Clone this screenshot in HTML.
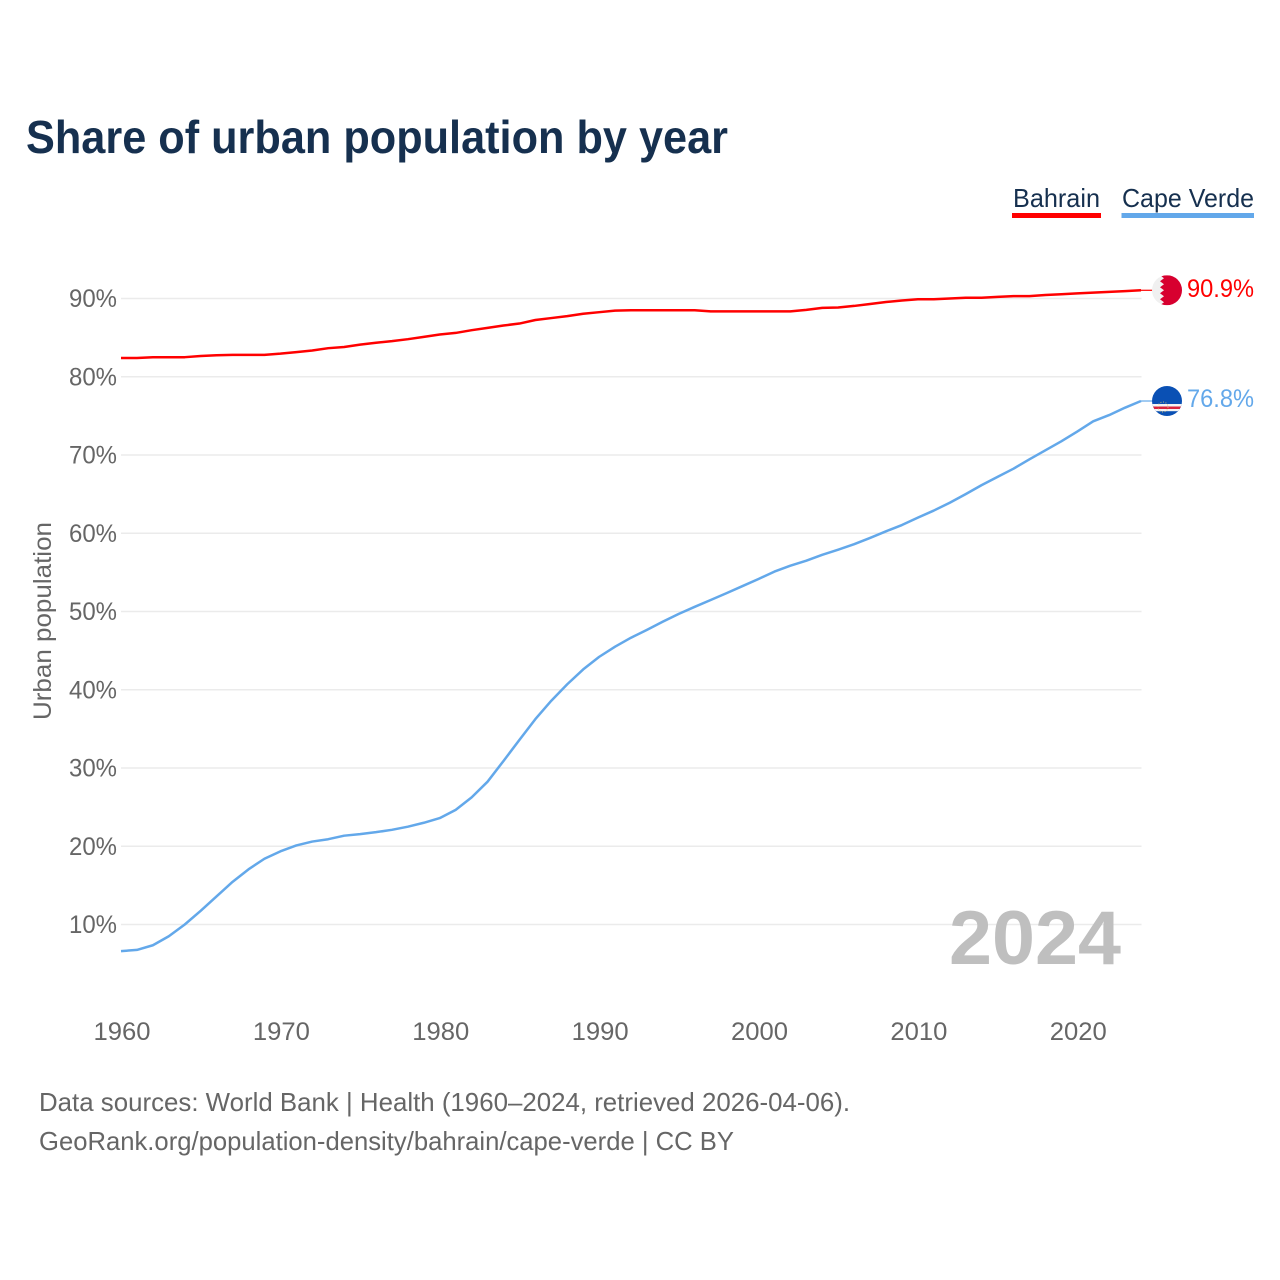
<!DOCTYPE html>
<html lang="en">
<head>
<meta charset="utf-8">
<title>Share of urban population by year</title>
<style>
html,body{margin:0;padding:0;background:#fff;}
svg{display:block;font-family:"Liberation Sans",sans-serif;}
</style>
</head>
<body>
<svg id="chart" width="1280" height="1280" viewBox="0 0 1280 1280" xmlns="http://www.w3.org/2000/svg">
<defs>
<clipPath id="flag-clip"><circle cx="0" cy="0" r="15"></circle></clipPath>
</defs>
<rect width="1280" height="1280" fill="#fff"></rect>
<text x="26" y="153" font-size="46" font-weight="700" fill="#16304f" textLength="702" lengthAdjust="spacingAndGlyphs">Share of urban population by year</text>

<g>
<g>
<text x="1013" y="207" font-size="26" fill="#16304f" textLength="87" lengthAdjust="spacingAndGlyphs">Bahrain</text>
<rect x="1012" y="213" width="89" height="5" fill="#ff0000"></rect>
</g>
<g>
<text x="1122" y="207" font-size="26" fill="#16304f" textLength="132" lengthAdjust="spacingAndGlyphs">Cape Verde</text>
<rect x="1121.5" y="213" width="132.5" height="5" fill="#63a8ea"></rect>
</g>
</g>

<g id="grid"></g>
<g id="y-ticks"></g>
<g id="x-ticks"></g>
<text transform="translate(51,621) rotate(-90)" text-anchor="middle" font-size="25" fill="#666" textLength="198" lengthAdjust="spacingAndGlyphs">Urban population</text>
<text x="949" y="964" font-size="76" font-weight="700" fill="#bfbfbf" textLength="172" lengthAdjust="spacingAndGlyphs">2024</text>
<g id="series"></g>

<g id="flag-bahrain">
<g clip-path="url(#flag-clip)">
<rect x="-15" y="-15" width="30" height="30" fill="#f0f0f0"></rect>
<polygon fill="#d7002f" points="-7,-15 -3,-12 -7,-9 -3,-6 -7,-3 -3,0 -7,3 -3,6 -7,9 -3,12 -7,15 15,15 15,-15"></polygon>
</g>
</g>
<g id="flag-cape-verde">
<g clip-path="url(#flag-clip)">
<rect x="-15" y="-15" width="30" height="30" fill="#0a50b4"></rect>
<rect x="-15" y="3" width="30" height="2.5" fill="#f4f4f4"></rect>
<rect x="-15" y="5.5" width="30" height="2.5" fill="#d8233f"></rect>
<rect x="-15" y="8" width="30" height="2.2" fill="#f4f4f4"></rect>
<circle cx="-4" cy="6" r="5" fill="none" stroke="#e8c860" stroke-width="1" stroke-dasharray="1 1.6" opacity="0.8"></circle>
</g>
</g>
<g id="end-labels"></g>

<g>
<text x="39" y="1111" font-size="26" fill="#666" textLength="811" lengthAdjust="spacingAndGlyphs">Data sources: World Bank | Health (1960–2024, retrieved 2026-04-06).</text>
<text x="39" y="1150" font-size="26" fill="#666" textLength="695" lengthAdjust="spacingAndGlyphs">GeoRank.org/population-density/bahrain/cape-verde | CC BY</text>
</g>
</svg>
<script>
const firstYear = 1960;
const bahrainValues = [82.4,82.4,82.5,82.5,82.5,82.65,82.75,82.8,82.8,82.8,82.95,83.15,83.35,83.65,83.8,84.1,84.35,84.55,84.8,85.1,85.4,85.6,85.95,86.25,86.55,86.8,87.25,87.5,87.75,88.05,88.25,88.45,88.5,88.5,88.5,88.5,88.5,88.35,88.35,88.35,88.35,88.35,88.35,88.55,88.8,88.85,89.05,89.3,89.55,89.75,89.9,89.9,90.0,90.1,90.1,90.2,90.3,90.3,90.45,90.55,90.65,90.75,90.85,90.95,91.05];
const capeVerdeValues = [6.6,6.75,7.35,8.5,10.0,11.75,13.6,15.45,17.05,18.4,19.35,20.1,20.6,20.9,21.35,21.55,21.8,22.1,22.5,23.0,23.6,24.65,26.25,28.25,30.9,33.6,36.25,38.6,40.7,42.6,44.2,45.5,46.65,47.65,48.7,49.7,50.6,51.47,52.35,53.25,54.15,55.1,55.85,56.5,57.25,57.9,58.6,59.4,60.25,61.05,62.0,62.9,63.9,65.0,66.15,67.2,68.25,69.45,70.6,71.75,73.0,74.3,75.1,76.05,76.9];
const yTickValues = [10,20,30,40,50,60,70,80,90];
const xTickValues = [1960,1970,1980,1990,2000,2010,2020];
const endLabelBahrain = "90.9%";
const endLabelCapeVerde = "76.8%";

const SVG_NS = "http://www.w3.org/2000/svg";
function xScale(year){ return 121 + (year - 1960) * (1020 / 64); }
function yScale(v){ return 1002.75 - v * 7.825; }
function make(tag, parent, attrs){
  const el = document.createElementNS(SVG_NS, tag);
  for (const k in attrs) el.setAttribute(k, attrs[k]);
  parent.appendChild(el);
  return el;
}
const gridG = document.getElementById("grid");
const yTicksG = document.getElementById("y-ticks");
const xTicksG = document.getElementById("x-ticks");
const seriesG = document.getElementById("series");
const labelsG = document.getElementById("end-labels");

yTickValues.forEach(function(v){
  const line = make("line", gridG, {x1: xScale(1960), x2: xScale(2024) + 0.5, y1: yScale(v), y2: yScale(v), stroke: "#ebebeb", "stroke-width": 1.4});
  
  
  const t = make("text", yTicksG, {x: 117, y: yScale(v) + 8.5, "text-anchor": "end", "font-size": 25, fill: "#666", textLength: 48, lengthAdjust: "spacingAndGlyphs"});
  t.textContent = v + "%";
  
  
});
xTickValues.forEach(function(y){
  const t = make("text", xTicksG, {x: xScale(y) + 1, y: 1040, "text-anchor": "middle", "font-size": 25, fill: "#666", textLength: 57, lengthAdjust: "spacingAndGlyphs"});
  t.textContent = String(y);
  
  
});
function drawSeries(values, color, name){
  const d = values.map(function(v, i){
    return (i ? "L" : "M") + xScale(firstYear + i).toFixed(2) + " " + yScale(v).toFixed(2);
  }).join(" ");
  const p = make("path", seriesG, {d: d, fill: "none", stroke: color, "stroke-width": 2.5, "stroke-linejoin": "round"});
  
  
  const last = yScale(values[values.length - 1]);
  const c = make("line", seriesG, {x1: xScale(2024), x2: xScale(2024) + 12, y1: last, y2: last, stroke: color, "stroke-width": 1.2});
  
  
  return last;
}
const bahrainEnd = drawSeries(bahrainValues, "#ff0000", "bahrain-line");
const capeVerdeEnd = drawSeries(capeVerdeValues, "#63a8ea", "cape-verde-line");
document.getElementById("flag-bahrain").setAttribute("transform", "translate(1167," + bahrainEnd + ")");
document.getElementById("flag-cape-verde").setAttribute("transform", "translate(1167," + capeVerdeEnd + ")");
const lb = make("text", labelsG, {x: 1254, y: bahrainEnd + 6.8, "text-anchor": "end", "font-size": 25, fill: "#ff0000", textLength: 67, lengthAdjust: "spacingAndGlyphs"});
lb.textContent = endLabelBahrain;


const lc = make("text", labelsG, {x: 1254, y: capeVerdeEnd + 6, "text-anchor": "end", "font-size": 25, fill: "#63a8ea", textLength: 67, lengthAdjust: "spacingAndGlyphs"});
lc.textContent = endLabelCapeVerde;


</script>
</body>
</html>
